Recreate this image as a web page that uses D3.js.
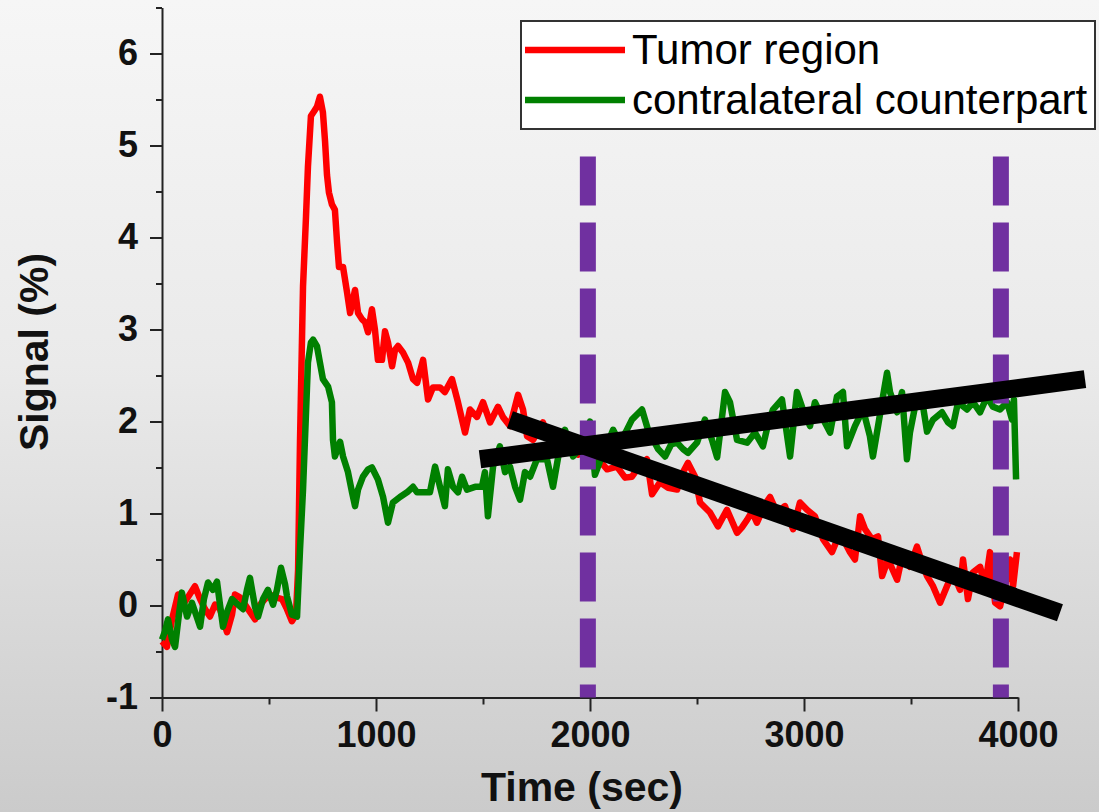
<!DOCTYPE html>
<html>
<head>
<meta charset="utf-8">
<script src="https://cdn.jsdelivr.net/npm/d3@7"></script>
<style>
  html, body { margin: 0; padding: 0; }
  body { width: 1099px; height: 812px; overflow: hidden; }
  svg { display: block; }
</style>
</head>
<body>
<svg id="chart" width="1099" height="812"></svg>
<script>
// Tumor region signal (time in sec, signal in %)
const tumorTime = [0,23,47,75,98,121,154,178,201,224,248,271,304,327,341,364,388,411,435,458,481,505,528,561,584,607,626,636,645,659,673,682,696,710,724,738,752,762,771,780,794,808,818,827,846,865,879,902,916,935,949,963,981,995,1009,1028,1042,1056,1075,1089,1103,1126,1150,1173,1192,1220,1243,1266,1299,1322,1355,1383,1416,1439,1472,1500,1533,1570,1593,1626,1664,1687,1706,1734,1780,1813,1846,1874,1907,1944,1977,2014,2047,2080,2126,2164,2196,2220,2266,2290,2327,2365,2407,2435,2458,2491,2514,2561,2598,2640,2687,2710,2734,2757,2780,2818,2841,2874,2911,2949,2981,3014,3051,3089,3131,3168,3215,3238,3262,3285,3318,3346,3365,3393,3435,3463,3495,3528,3551,3575,3603,3636,3668,3696,3729,3743,3766,3790,3823,3846,3869,3893,3916,3939,3963,3977,3995];
const tumorSignal = [-0.39,-0.45,-0.15,0.12,0.01,0.09,0.21,0.07,-0.04,-0.12,0.01,-0.04,-0.29,-0.10,0.12,0.09,0.01,-0.07,-0.15,0.01,0.07,0.12,0.09,0.07,-0.04,-0.17,-0.10,0.39,1.80,3.47,4.23,4.77,5.32,5.37,5.42,5.53,5.36,5.04,4.68,4.49,4.36,4.30,3.95,3.68,3.68,3.40,3.18,3.43,3.18,3.11,3.08,2.97,3.22,3.00,2.67,2.67,2.98,2.86,2.60,2.78,2.82,2.75,2.64,2.46,2.42,2.67,2.24,2.37,2.37,2.32,2.46,2.21,1.88,2.13,2.05,2.21,1.99,2.16,2.05,1.95,2.29,2.13,1.84,1.80,1.99,1.80,1.84,1.75,1.72,1.64,1.67,1.55,1.57,1.48,1.51,1.39,1.40,1.48,1.59,1.21,1.34,1.28,1.26,1.45,1.55,1.40,1.12,1.01,0.86,1.04,0.79,0.85,0.93,1.02,0.90,1.10,1.18,1.01,1.08,0.83,1.12,1.04,0.97,0.72,0.58,0.79,0.58,0.50,0.97,0.83,0.72,0.75,0.32,0.50,0.28,0.58,0.42,0.64,0.47,0.32,0.21,0.03,0.21,0.36,0.17,0.50,0.07,0.36,0.42,0.21,0.58,0.03,-0.01,0.21,0.50,0.21,0.58];

// Contralateral counterpart signal
const contraTime = [0,14,28,47,61,79,93,117,140,159,178,196,215,238,257,271,285,304,327,355,379,397,411,435,449,472,495,519,537,556,575,584,607,631,645,659,668,682,696,706,724,738,752,776,794,799,808,832,846,869,888,902,916,939,963,981,1009,1033,1056,1079,1112,1145,1173,1192,1220,1252,1276,1299,1322,1336,1360,1383,1402,1425,1463,1495,1509,1523,1547,1579,1603,1626,1650,1673,1696,1720,1752,1799,1827,1860,1883,1921,1963,2000,2023,2047,2080,2108,2140,2168,2196,2243,2271,2318,2351,2379,2407,2435,2458,2500,2537,2570,2594,2631,2654,2687,2734,2771,2808,2832,2855,2897,2935,2967,2995,3028,3051,3084,3122,3154,3182,3201,3238,3276,3308,3322,3346,3369,3388,3402,3435,3458,3481,3495,3528,3551,3575,3603,3645,3673,3696,3720,3762,3790,3823,3855,3883,3916,3949,3972,3981,3991];
const contraSignal = [-0.37,-0.28,-0.15,-0.37,-0.45,-0.10,0.14,-0.12,0.03,-0.10,-0.23,0.07,0.25,0.17,0.26,0.01,-0.23,-0.07,0.07,0.01,-0.04,0.17,0.30,-0.02,-0.12,0.07,0.17,0.01,0.17,0.41,0.23,0.10,-0.10,-0.12,0.61,1.26,1.80,2.64,2.86,2.89,2.82,2.64,2.46,2.38,2.21,1.80,1.62,1.78,1.62,1.45,1.23,1.08,1.26,1.40,1.48,1.50,1.37,1.18,0.90,1.12,1.18,1.23,1.29,1.23,1.23,1.23,1.51,1.29,1.08,1.48,1.29,1.23,1.40,1.26,1.29,1.29,1.45,0.97,1.51,1.73,1.45,1.51,1.29,1.15,1.45,1.40,1.59,1.59,1.29,1.73,1.91,1.62,1.73,2.00,1.42,1.57,1.75,1.91,1.77,1.89,2.02,2.13,1.91,1.70,1.62,1.75,1.77,1.70,1.66,1.77,2.02,1.80,1.61,2.32,2.21,1.80,1.77,1.88,1.73,1.97,2.13,2.24,1.62,2.32,2.13,1.95,2.21,2.05,1.88,2.27,2.32,1.73,1.95,2.13,1.84,1.62,1.95,2.27,2.53,2.32,2.10,2.32,1.59,1.88,2.27,2.24,1.89,2.02,2.10,1.99,1.95,2.21,2.13,2.21,2.10,2.27,2.16,2.13,2.21,2.02,2.24,1.37];

// Linear trend lines drawn over the late phase: [time, signal] end points
const contraTrend = [[1486, 1.59], [4313, 2.46]];
const tumorTrend = [[1626, 2.02], [4196, -0.08]];

// Vertical dashed markers (time) and the signal level where they start
const markerTimes = [1990, 3920];
const markerTop = 4.88;

// Axis ticks
const xTicks = [0, 1000, 2000, 3000, 4000];
const xMinorTicks = [500, 1500, 2500, 3500];
const yTicks = [-1, 0, 1, 2, 3, 4, 5, 6];
const yMinorTicks = [-0.5, 0.5, 1.5, 2.5, 3.5, 4.5, 5.5, 6.5];

const seriesNames = ["Tumor region", "contralateral counterpart"];
const seriesColors = ["#ff0000", "#008000"];

const svg = d3.select("#chart");
const W = 1099, H = 812;
const FONT = "'Liberation Sans', Arial, Helvetica, sans-serif";

// Background gradient
const defs = svg.append("defs");
const grad = defs.append("linearGradient").attr("id", "bg").attr("x1", 0).attr("y1", 0).attr("x2", 0).attr("y2", 1);
grad.append("stop").attr("offset", "0%").attr("stop-color", "#f6f6f6");
grad.append("stop").attr("offset", "45%").attr("stop-color", "#eaeaea");
grad.append("stop").attr("offset", "100%").attr("stop-color", "#cbcbcb");
svg.append("rect").attr("width", W).attr("height", H).attr("fill", "url(#bg)");

const x = d3.scaleLinear().domain([0, 4000]).range([162, 1018]);
const y = d3.scaleLinear().domain([-1, 6.5]).range([697.5, 7.5]);

const axisColor = "#222";
const plainNumber = d => String(d);

// X axis
const xAxis = svg.append("g").attr("transform", `translate(0,${y(-1)})`)
  .call(d3.axisBottom(x).tickValues(xTicks).tickSize(14).tickSizeOuter(0).tickPadding(10).tickFormat(plainNumber));
svg.append("g").attr("transform", `translate(0,${y(-1)})`)
  .call(d3.axisBottom(x).tickValues(xMinorTicks).tickSize(7).tickSizeOuter(0).tickFormat(""))
  .select(".domain").remove();

// Y axis
const yAxis = svg.append("g").attr("transform", `translate(${x(0)},0)`)
  .call(d3.axisLeft(y).tickValues(yTicks).tickSize(12).tickSizeOuter(0).tickPadding(12).tickFormat(plainNumber));
svg.append("g").attr("transform", `translate(${x(0)},0)`)
  .call(d3.axisLeft(y).tickValues(yMinorTicks).tickSize(6).tickSizeOuter(0).tickFormat(""))
  .select(".domain").remove();

svg.selectAll(".domain, .tick line").attr("stroke", axisColor).attr("stroke-width", 2);
xAxis.selectAll(".tick text").attr("font-family", FONT).attr("font-size", 36).attr("font-weight", "bold").attr("fill", "#111");
yAxis.selectAll(".tick text").attr("font-family", FONT).attr("font-size", 36).attr("font-weight", "bold").attr("fill", "#111").attr("dy", "0.3em");

// Axis titles
svg.append("text").attr("x", 582).attr("y", 801).attr("text-anchor", "middle")
  .attr("font-family", FONT).attr("font-size", 41).attr("font-weight", "bold").attr("fill", "#111")
  .text("Time (sec)");
svg.append("text").attr("transform", `translate(48,352) rotate(-90)`).attr("text-anchor", "middle")
  .attr("font-family", FONT).attr("font-size", 41).attr("font-weight", "bold").attr("fill", "#111")
  .text("Signal (%)");

// Data series
const line = d3.line().x(d => x(d[0])).y(d => y(d[1]));
const tumor = tumorTime.map((t, i) => [t, tumorSignal[i]]);
const contra = contraTime.map((t, i) => [t, contraSignal[i]]);

svg.append("path").datum(tumor).attr("d", line)
  .attr("fill", "none").attr("stroke", seriesColors[0]).attr("stroke-width", 6.5).attr("stroke-linejoin", "round");
svg.append("path").datum(contra).attr("d", line)
  .attr("fill", "none").attr("stroke", seriesColors[1]).attr("stroke-width", 6.5).attr("stroke-linejoin", "round");

// Dashed vertical markers
svg.selectAll(".marker").data(markerTimes).enter().append("line")
  .attr("class", "marker")
  .attr("x1", d => x(d)).attr("x2", d => x(d))
  .attr("y1", y(markerTop)).attr("y2", y(-1))
  .attr("stroke", "#7030a0").attr("stroke-width", 16).attr("stroke-dasharray", "49,17");

// Trend lines
[contraTrend, tumorTrend].forEach(seg => {
  svg.append("path").datum(seg).attr("d", line)
    .attr("fill", "none").attr("stroke", "#000").attr("stroke-width", 18);
});

// Legend
const lg = svg.append("g");
lg.append("rect").attr("x", 521).attr("y", 21).attr("width", 574).attr("height", 108)
  .attr("fill", "#fff").attr("stroke", "#333").attr("stroke-width", 2);
seriesNames.forEach((name, i) => {
  const cy = 50 + i * 50;
  lg.append("line").attr("x1", 525).attr("x2", 625).attr("y1", cy).attr("y2", cy)
    .attr("stroke", seriesColors[i]).attr("stroke-width", 6.5);
  lg.append("text").attr("x", 632).attr("y", cy + 14)
    .attr("font-family", FONT).attr("font-size", 42).attr("fill", "#000").text(name);
});
</script>
</body>
</html>
